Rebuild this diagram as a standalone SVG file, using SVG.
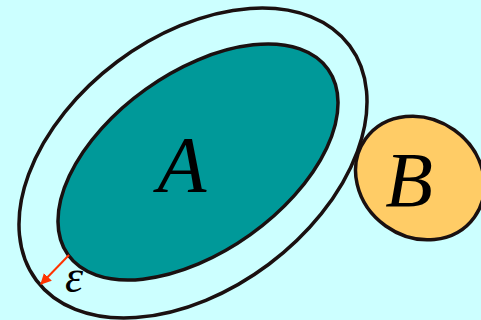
<svg xmlns="http://www.w3.org/2000/svg" width="481" height="320" viewBox="0 0 481 320">
<style>
.sh{stroke:#1a1010;stroke-width:3.5}
.lbl{font-family:"Liberation Serif",serif;font-style:italic;fill:#000}
</style>
<defs>
<marker id="ah" viewBox="0 0 10 10" refX="9" refY="5" markerWidth="5.5" markerHeight="5.5" orient="auto" markerUnits="strokeWidth">
<path d="M0,0 L10,5 L0,10 z" fill="#ff3300"/>
</marker>
</defs>
<rect width="481" height="320" fill="#ccffff"/>
<g id="outer">
<ellipse class="sh" cx="193" cy="163" rx="195.7" ry="126.5" transform="rotate(-36.85 193 163)" fill="#ccffff"/>
</g>
<g id="A">
<ellipse class="sh" cx="198" cy="162" rx="159.7" ry="89.6" transform="rotate(-35.5 198 162)" fill="#009999"/>
<text class="lbl" x="182" y="192" font-size="80" text-anchor="middle">A</text>
</g>
<g id="B">
<ellipse class="sh" cx="420" cy="178" rx="67" ry="59" transform="rotate(35.5 420 178)" fill="#ffcc66"/>
<text class="lbl" x="409" y="206" font-size="78" text-anchor="middle">B</text>
</g>
<g id="connectors">
<line x1="69" y1="255" x2="41" y2="284" stroke="#ff3300" stroke-width="2" marker-end="url(#ah)"/>
<text class="lbl" x="74" y="292" font-size="46" text-anchor="middle">ε</text>
</g>
</svg>
